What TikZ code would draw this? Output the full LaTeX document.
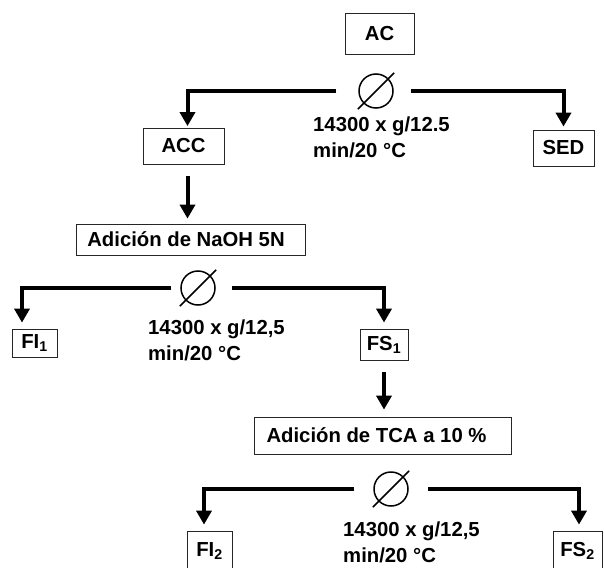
\documentclass[tikz,border=0pt]{standalone}
\usepackage{fontspec}
\setmainfont{Liberation Sans}
\usetikzlibrary{arrows.meta}
\begin{document}
\begin{tikzpicture}[x=1pt,y=-1pt,
  txt/.style={font=\fontsize{20.3}{26}\selectfont\bfseries},
  box/.style={txt,draw=black!85,line width=0.8pt,inner sep=0pt},
  conn/.style={line width=4pt,-{Triangle[width=15pt,length=14pt]}},
  cent/.style={circle,draw,line width=1.5pt,minimum size=34pt,inner sep=0pt},
  slash/.style={line width=1.5pt,shorten <=-8pt,shorten >=-8pt},
  lbl/.style={txt,align=left,inner sep=0pt,anchor=north west}]
\fill[white] (0,0) rectangle (604,567);
\useasboundingbox (0,0) rectangle (604,567);
\clip (0,0) rectangle (604,567);
% level 1
\node[box,minimum width=69pt,minimum height=41pt] (ac) at (379.5,33.5) {AC};
\node[cent] (c1) at (376,91) {};
\draw[slash] (c1.225) -- (c1.45);
\node[box,minimum width=81pt,minimum height=36pt] (acc) at (183.5,146) {ACC};
\node[box,minimum width=61pt,minimum height=36pt] (sed) at (563.5,148) {SED};
\node[lbl] (t1) at (313,117) {14300 x g/12.5\\min/20 °C};
% level 2
\node[box,minimum width=229pt,minimum height=31pt] (naoh) at (190.5,239.5) {Adición de NaOH 5N\hspace*{9pt}};
\node[cent] (c2) at (198,288) {};
\draw[slash] (c2.225) -- (c2.45);
\node[box,minimum width=45pt,minimum height=28pt] (fi1) at (34.5,343) {FI\textsubscript{1}};
\node[box,minimum width=48pt,minimum height=31pt] (fs1) at (384,344.5) {FS\textsubscript{1}};
\node[lbl] (t2) at (148,320) {14300 x g/12,5\\min/20 °C};
% level 3
\node[box,minimum width=257pt,minimum height=37pt] (tca) at (382.5,435.5) {Adición de TCA a 10 \%\hspace*{12pt}};
\node[cent] (c3) at (391,489) {};
\draw[slash] (c3.225) -- (c3.45);
\node[box,minimum width=45pt,minimum height=40pt] (fi2) at (209.5,551) {FI\textsubscript{2}};
\node[box,minimum width=49pt,minimum height=40pt] (fs2) at (577.5,551) {FS\textsubscript{2}};
\node[lbl] (t3) at (343,522) {14300 x g/12,5\\min/20 °C};
% connectors
\draw[conn,shorten >=1.5pt] ([xshift=-22pt]c1.west) -| ([xshift=4pt]acc.north);
\draw[conn,shorten >=3pt] ([xshift=17pt]c1.east) -| (sed.north);
\draw[conn,shorten <=12pt,shorten >=5pt] ([xshift=4pt]acc.south) -- ([xshift=4pt]acc.south |- naoh.north);
\draw[conn,shorten >=6pt] ([xshift=-9pt]c2.west) -| ([xshift=-12.5pt]fi1.north);
\draw[conn,shorten >=6pt] ([xshift=16pt]c2.east) -| (fs1.north);
\draw[conn,shorten <=12pt,shorten >=7pt] (fs1.south) -- (fs1.south |- tca.north);
\draw[conn,shorten >=6pt] ([xshift=-19pt]c3.west) -| ([xshift=-5.5pt]fi2.north);
\draw[conn,shorten >=6pt] ([xshift=19pt]c3.east) -| ([xshift=1.5pt]fs2.north);
\end{tikzpicture}
\end{document}
